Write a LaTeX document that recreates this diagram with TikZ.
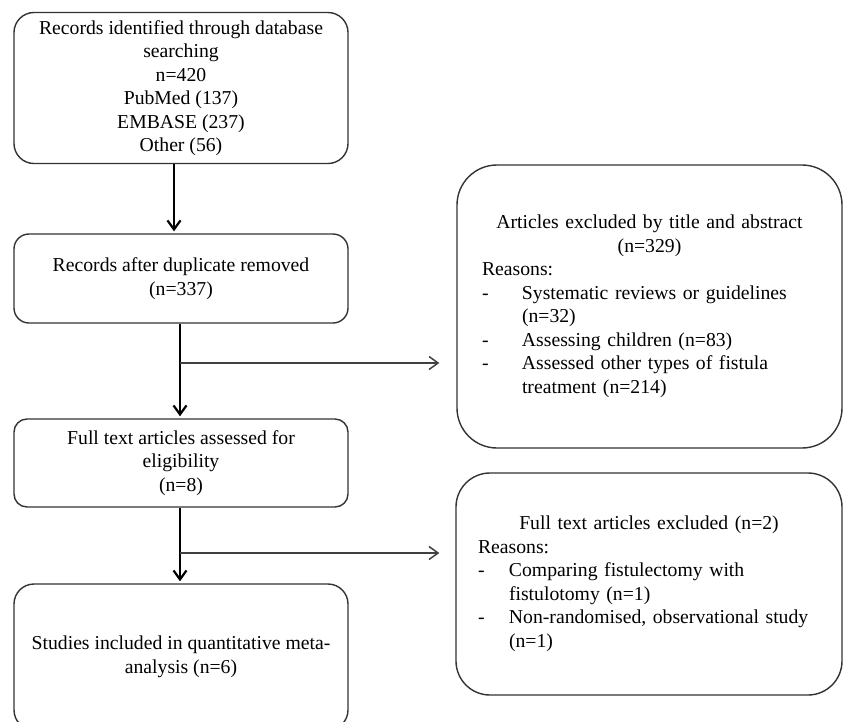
\documentclass[tikz,border=0pt]{standalone}
\usepackage{fontspec}
\setmainfont{Liberation Serif}
\usetikzlibrary{arrows.meta}
\newcommand{\arw}{-{Straight Barb[length=9pt,width=13pt]}}
\newcommand{\reason}[2][40pt]{\par\noindent\hangindent=#1\hangafter=1\makebox[#1][l]{-}#2\par}

\begin{document}
\begin{tikzpicture}[x=1pt,y=-1pt,
  font=\fontsize{19.7}{23.5}\selectfont,
  box/.style={draw=black!80,line width=1.4pt,rounded corners=#1,
    minimum width=334pt,inner sep=0pt,align=center},
  box/.default=14pt,
  side/.style={draw=black!80,line width=1.4pt,rounded corners=#1,
    text width=335pt,inner xsep=25pt,inner ysep=0pt,align=left},
  side/.default=40pt,
  flow/.style={line width=2.2pt,shorten >=2pt},
  branch/.style={draw=black!75,line width=1.5pt}]
\useasboundingbox (0,0) rectangle (843,721);
% left column
\node[box=20pt,minimum height=151pt] (search) at (181,88)
  {Records identified through database\\searching\\n=420\\PubMed (137)\\EMBASE (237)\\Other (56)};
\node[box=15pt,minimum height=89pt] (dupl) at (181,278.5)
  {Records after duplicate removed\\(n=337)};
\node[box=13pt,minimum height=88pt] (full) at (181,463)
  {Full text articles assessed for\\eligibility\\(n=8)};
\node[box=20pt,minimum height=146pt] (incl) at (181,657)
  {Studies included in quantitative meta-\\analysis (n=6)};
% exclusions
\node[side=40pt,minimum height=283pt] (excl1) at (649.5,306.5) {%
  \centerline{Articles excluded by title and abstract}
  \centerline{(n=329)}
  \noindent Reasons:
  \reason{Systematic reviews or guidelines\newline(n=32)}
  \reason{Assessing children (n=83)}
  \reason{Assessed other types of fistula\newline treatment (n=214)}};
\node[side=34pt,text width=342pt,inner xsep=22pt,minimum height=222pt] (excl2) at (649,584) {%
  \centerline{Full text articles excluded (n=2)}
  \noindent Reasons:
  \reason[31pt]{Comparing fistulectomy with\newline fistulotomy (n=1)}
  \reason[31pt]{Non-randomised, observational study\newline(n=1)}};
% arrows
\coordinate (split1) at (180,363);
\coordinate (split2) at (180,553);
\draw[flow,\arw] ([xshift=-7pt]search.south) -- ([xshift=-7pt]dupl.north);
\draw[flow,\arw] ([xshift=-1pt]dupl.south) -- ([xshift=-1pt]full.north);
\draw[flow,\arw] ([xshift=-1pt]full.south) -- ([xshift=-1pt]incl.north);
\draw[branch,\arw] (split1) -- ([xshift=-17pt]excl1.west |- split1);
\draw[branch,\arw] (split2) -- ([xshift=-16pt]excl2.west |- split2);
\end{tikzpicture}
\end{document}
